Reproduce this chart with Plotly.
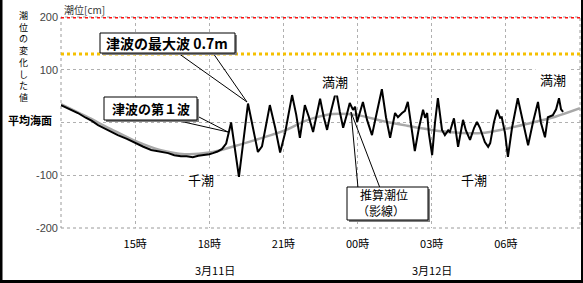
import plotly.graph_objects as go

# ---------------- data ----------------
obs_time = [
    "2011-03-11 12:00", "2011-03-11 12:20", "2011-03-11 12:41", "2011-03-11 13:00", "2011-03-11 13:15",
    "2011-03-11 13:30", "2011-03-11 13:50", "2011-03-11 14:05", "2011-03-11 14:18", "2011-03-11 14:40",
    "2011-03-11 15:00", "2011-03-11 15:20", "2011-03-11 15:39", "2011-03-11 16:00", "2011-03-11 16:20",
    "2011-03-11 16:35", "2011-03-11 16:51", "2011-03-11 17:05", "2011-03-11 17:20", "2011-03-11 17:33",
    "2011-03-11 17:45", "2011-03-11 18:00", "2011-03-11 18:09", "2011-03-11 18:20", "2011-03-11 18:31",
    "2011-03-11 18:41", "2011-03-11 18:53", "2011-03-11 19:02", "2011-03-11 19:12", "2011-03-11 19:22",
    "2011-03-11 19:34", "2011-03-11 19:46", "2011-03-11 19:58", "2011-03-11 20:08", "2011-03-11 20:18",
    "2011-03-11 20:27", "2011-03-11 20:40", "2011-03-11 20:52", "2011-03-11 21:04", "2011-03-11 21:21",
    "2011-03-11 21:31", "2011-03-11 21:40", "2011-03-11 21:52", "2011-03-11 22:02", "2011-03-11 22:12",
    "2011-03-11 22:29", "2011-03-11 22:38", "2011-03-11 22:46", "2011-03-11 22:55", "2011-03-11 23:08",
    "2011-03-11 23:17", "2011-03-11 23:25", "2011-03-11 23:34", "2011-03-11 23:41", "2011-03-11 23:49",
    "2011-03-11 23:54", "2011-03-11 23:59", "2011-03-12 00:06", "2011-03-12 00:13", "2011-03-12 00:23",
    "2011-03-12 00:35", "2011-03-12 00:47", "2011-03-12 00:59", "2011-03-12 01:09", "2011-03-12 01:19",
    "2011-03-12 01:31", "2011-03-12 01:38", "2011-03-12 01:48", "2011-03-12 01:55", "2011-03-12 02:02",
    "2011-03-12 02:10", "2011-03-12 02:19", "2011-03-12 02:29", "2011-03-12 02:39", "2011-03-12 02:44",
    "2011-03-12 02:49", "2011-03-12 02:53", "2011-03-12 03:01", "2011-03-12 03:08", "2011-03-12 03:15",
    "2011-03-12 03:25", "2011-03-12 03:32", "2011-03-12 03:40", "2011-03-12 03:44", "2011-03-12 03:54",
    "2011-03-12 04:04", "2011-03-12 04:16", "2011-03-12 04:23", "2011-03-12 04:33", "2011-03-12 04:43",
    "2011-03-12 04:50", "2011-03-12 04:57", "2011-03-12 05:09", "2011-03-12 05:17", "2011-03-12 05:22",
    "2011-03-12 05:31", "2011-03-12 05:39", "2011-03-12 05:46", "2011-03-12 05:50", "2011-03-12 05:58",
    "2011-03-12 06:05", "2011-03-12 06:15", "2011-03-12 06:29", "2011-03-12 06:39", "2011-03-12 06:54",
    "2011-03-12 07:06", "2011-03-12 07:18", "2011-03-12 07:25", "2011-03-12 07:35", "2011-03-12 07:42",
    "2011-03-12 07:54", "2011-03-12 08:02", "2011-03-12 08:09", "2011-03-12 08:14", "2011-03-12 08:19",
]
obs_level = [
    33, 26, 18, 9, 3,
    -5, -13, -19, -24, -31,
    -39, -46, -52, -55, -58,
    -62, -64, -64, -66, -63,
    -62, -60, -58, -55, -50,
    -40, 0, -50, -103, -40,
    36, -10, -56, -45, 0,
    33, -10, -57, -20, 52,
    15, -29, 33, 10, -18,
    45, 10, -14, 20, 60,
    20, -10, 15, 37, 24,
    30, 1, 20, 39, 5,
    -24, 20, 63, 10, -29,
    18, 10, 18, 22, 39,
    -5, -54, -10, 24, 9,
    18, -20, -62, 0, 46,
    -14, -24, -15, -18, 8,
    -46, 5, -15, -33, -10,
    1, -10, -37, -46, -39,
    0, 24, 9, 10, -20,
    -65, -10, 46, 10, -43,
    1, 39, 0, -28, 10,
    14, 25, 46, 25, 20,
]

tide_time = [
    "2011-03-11 12:00", "2011-03-11 13:00", "2011-03-11 14:00", "2011-03-11 15:00", "2011-03-11 16:00",
    "2011-03-11 17:00", "2011-03-11 18:00", "2011-03-11 19:00", "2011-03-11 20:00", "2011-03-11 21:00",
    "2011-03-11 22:00", "2011-03-11 23:00", "2011-03-12 00:00", "2011-03-12 01:00", "2011-03-12 02:00",
    "2011-03-12 03:00", "2011-03-12 04:00", "2011-03-12 05:00", "2011-03-12 06:00", "2011-03-12 07:00",
    "2011-03-12 08:00", "2011-03-12 09:00",
]
tide_level = [35, 12, -12, -35, -52, -60, -57, -45, -31, -16, 5, 16, 14, 3, -6, -14, -19, -20, -12, -1, 11, 27]

red_level = 200
yellow_level = 130

x_tick_times = ["2011-03-11 15:00", "2011-03-11 18:00", "2011-03-11 21:00",
                "2011-03-12 00:00", "2011-03-12 03:00", "2011-03-12 06:00"]
x_tick_text = ["15時", "18時", "21時", "00時", "03時", "06時"]
y_tick_vals = [200, 100, 0, -100, -200]
y_tick_text = ["200", "100", "", "-100", "-200"]
date_labels = ["3月11日", "3月12日"]

# ---------------- layout helpers (pixel -> paper) ----------------
W, H = 583, 283
L, R, T, B = 61, 3, 17, 55
PW, PH = W - L - R, H - T - B


def px(x):
    return (x - L) / PW


def py(y):
    return (H - B - y) / PH


JP = "Noto Sans CJK JP"
NUM = "Liberation Sans Narrow, Arial Narrow, Liberation Sans, Arial"

fig = go.Figure()
fig.add_trace(go.Scatter(x=tide_time, y=tide_level, mode="lines",
                         line=dict(color="#a8a8a8", width=2.5, shape="spline"),
                         hoverinfo="skip", showlegend=False))
fig.add_trace(go.Scatter(x=obs_time, y=obs_level, mode="lines",
                         line=dict(color="black", width=2),
                         hoverinfo="skip", showlegend=False))

shapes = []
shapes.append(dict(type="rect", xref="paper", yref="paper", x0=0, x1=1, y0=0, y1=1,
                   line=dict(color="#9a9a9a", width=1, dash="dot"), layer="below"))
shapes.append(dict(type="line", xref="paper", yref="y", x0=0, x1=1, y0=red_level, y1=red_level,
                   line=dict(color="#ff1010", width=3, dash="dot")))
shapes.append(dict(type="line", xref="paper", yref="y", x0=0, x1=1, y0=yellow_level, y1=yellow_level,
                   line=dict(color="#f5c000", width=3, dash="dot")))


def box(x0, y0, x1, y1):
    shapes.append(dict(type="rect", xref="paper", yref="paper",
                       x0=px(x0 + 2), x1=px(x1 + 2), y0=py(y1 + 2), y1=py(y0 + 2),
                       line=dict(width=0), fillcolor="#808080"))
    shapes.append(dict(type="rect", xref="paper", yref="paper",
                       x0=px(x0), x1=px(x1), y0=py(y1), y1=py(y0),
                       line=dict(color="black", width=1), fillcolor="white"))


def pointer(xa, ya, xb, yb):
    shapes.append(dict(type="line", xref="paper", yref="paper",
                       x0=px(xa), y0=py(ya), x1=px(xb), y1=py(yb),
                       line=dict(color="black", width=1)))


pointer(178, 53, 247, 102)
pointer(213, 53, 247, 102)
pointer(175, 120, 228, 132)
pointer(197, 116, 228, 132)
pointer(358, 188, 351, 112)
pointer(380, 188, 351, 112)
box(100, 33, 235, 53)
box(104, 97, 197, 120)
box(347, 187, 428, 220)

shapes.append(dict(type="line", xref="paper", yref="paper", x0=px(1), x1=px(1), y0=py(0), y1=py(283),
                   line=dict(color="black", width=3)))
shapes.append(dict(type="line", xref="paper", yref="paper", x0=px(0), x1=px(583), y0=py(281.5), y1=py(281.5),
                   line=dict(color="black", width=3)))
shapes.append(dict(type="line", xref="paper", yref="paper", x0=px(582), x1=px(582), y0=py(0), y1=py(283),
                   line=dict(color="black", width=2)))

ann = []


def text(x, y, s, size=13, bold=False, color="black", font=JP, xanchor="center", bg=None, pad=1):
    d = dict(xref="paper", yref="paper", x=px(x), y=py(y), text=("<b>%s</b>" % s) if bold else s,
             showarrow=False, xanchor=xanchor, yanchor="middle",
             font=dict(family=font, size=size, color=color), borderpad=pad)
    if bg:
        d["bgcolor"] = bg
    ann.append(d)


text(167, 43, "津波の最大波 0.7m", size=14, bold=True)
text(151, 109, "津波の第１波", size=13, bold=True)
text(384, 194, "推算潮位", size=12, pad=0)
text(381, 210, "（影線）", size=12, pad=0)
text(335, 81, "満潮", size=13, bg="white", pad=4)
text(553, 79, "満潮", size=13, bg="white", pad=4)
text(201, 179, "千潮", size=13, bg="white", pad=1)
text(474, 179, "千潮", size=13, bg="white", pad=1)
text(30, 120, "平均海面", size=11, bold=True)
text(62, 10, "潮位[cm]", size=10, color="#333333", xanchor="left")

vert = "潮位の変化した値"
text(23, 56, "<br>".join(vert), size=9)

text(215, 270, date_labels[0], size=11)
text(432, 270, date_labels[1], size=11)

fig.update_layout(
    width=W, height=H, margin=dict(l=L, r=R, t=T, b=B),
    paper_bgcolor="white", plot_bgcolor="white",
    shapes=shapes, annotations=ann, showlegend=False,
    xaxis=dict(range=["2011-03-11 12:00", "2011-03-12 09:00"], type="date",
               tickvals=x_tick_times, ticktext=x_tick_text,
               showgrid=True, gridcolor="#b0b0b0", griddash="dot", gridwidth=1,
               showline=False, zeroline=False, ticks="", ticklabelstandoff=8,
               tickfont=dict(family=JP, size=11, color="black"), fixedrange=True),
    yaxis=dict(range=[-200, 200], tickvals=y_tick_vals, ticktext=y_tick_text,
               showgrid=True, gridcolor="#b0b0b0", griddash="dot", gridwidth=1,
               showline=False, zeroline=False, ticks="", ticklabelstandoff=2,
               tickfont=dict(family=NUM, size=11, color="#444444"), fixedrange=True),
)

fig.write_html("out.html")
